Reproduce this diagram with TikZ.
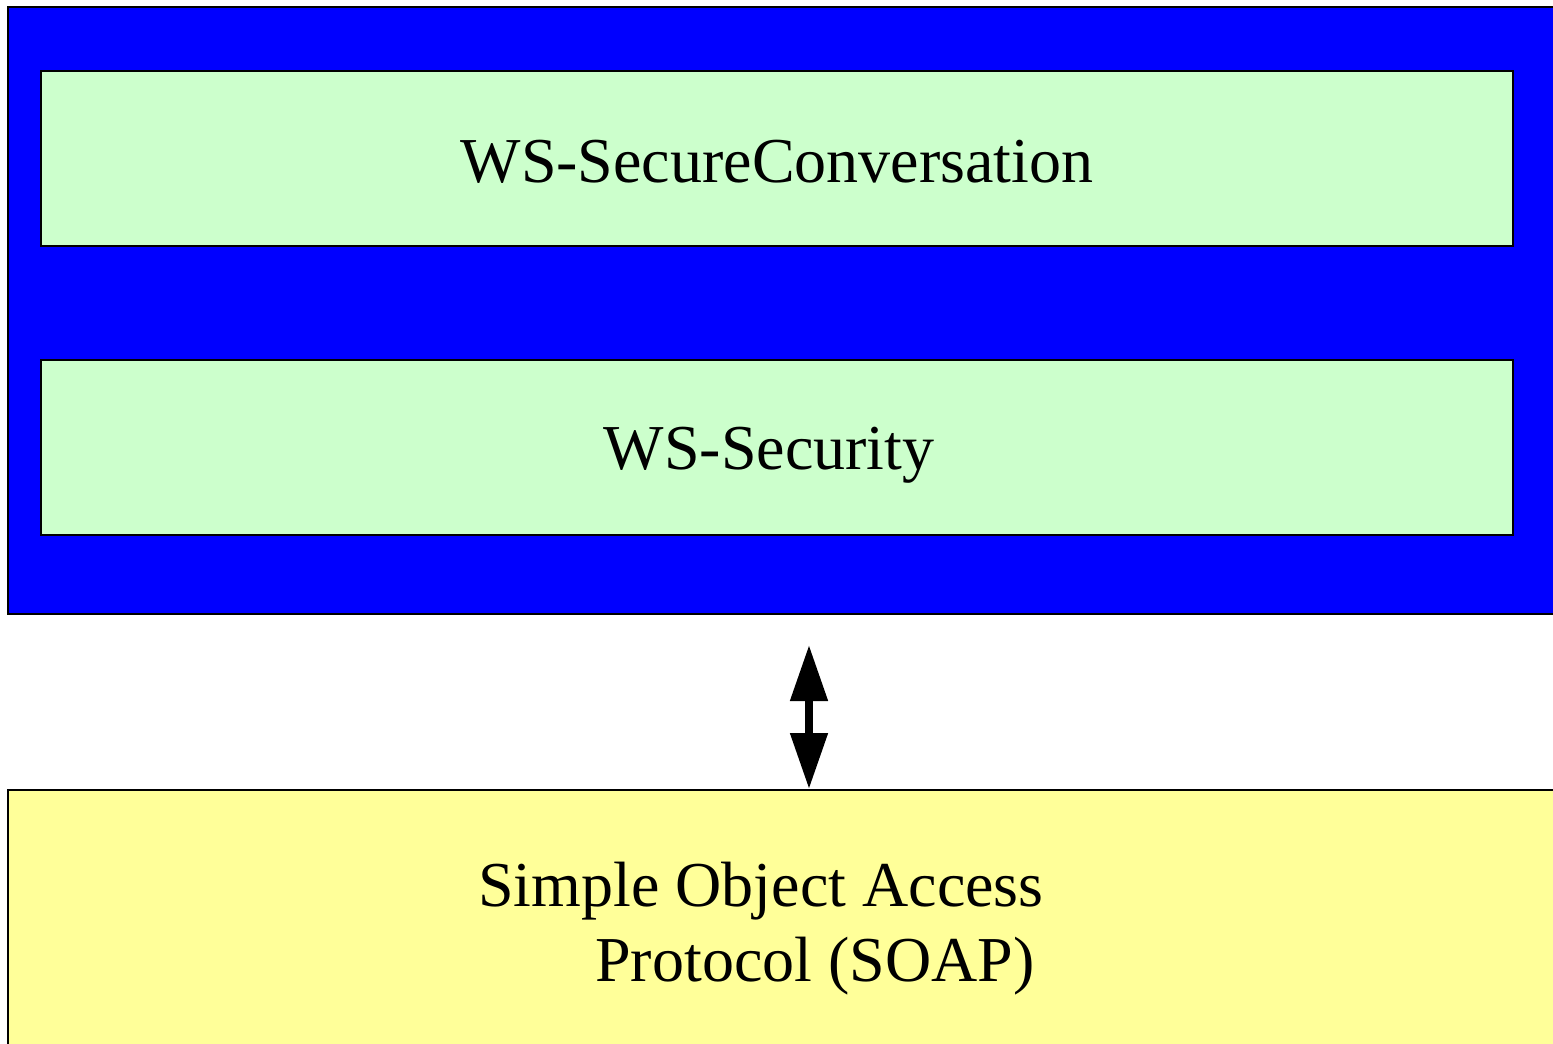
\documentclass[tikz,border=0pt]{standalone}
\usepackage{fontspec}
\setmainfont{Liberation Serif}
\usetikzlibrary{arrows.meta}
\definecolor{layerblue}{HTML}{0000FF}
\definecolor{layergreen}{HTML}{CCFFCC}
\definecolor{layeryellow}{HTML}{FFFF99}
\tikzset{
  outerbox/.style={draw=black, line width=2pt, inner sep=0pt},
  innerbox/.style={draw=black, line width=2pt, fill=layergreen, inner sep=0pt,
    minimum width=1472pt, minimum height=175pt},
  label/.style={inner sep=0pt, align=left, font=\fontsize{64}{75}\selectfont},
  bothway/.style={line width=8pt, {Triangle[length=56pt,width=36pt]}-{Triangle[length=56pt,width=36pt]}}
}
\begin{document}
\begin{tikzpicture}[x=1pt, y=-1pt]
  \useasboundingbox (0,0) rectangle (1553,1044);
  \clip (0,0) rectangle (1553,1044);
  % security stack
  \node[outerbox, fill=layerblue, minimum width=1592pt, minimum height=607pt] (stack) at (804,310.5) {};
  \node[innerbox] (conv) at (777,158.5) {};
  \node[label] (convlabel) at (777,162) {WS-SecureConversation};
  \node[innerbox] (sec) at (777,447) {};
  \node[label] (seclabel) at (769,455) {WS-Security};
  % transport layer
  \node[outerbox, fill=layeryellow, minimum width=1592pt, minimum height=320pt] (soap) at (804,950) {};
  \node[label] (soaplabel) at (761,929) {Simple Object Access\\\hspace*{117pt}Protocol (SOAP)};
  % link between the layers
  \coordinate (linktop) at (809,645);
  \draw[bothway] (linktop) -- (linktop |- soap.north);
\end{tikzpicture}
\end{document}
